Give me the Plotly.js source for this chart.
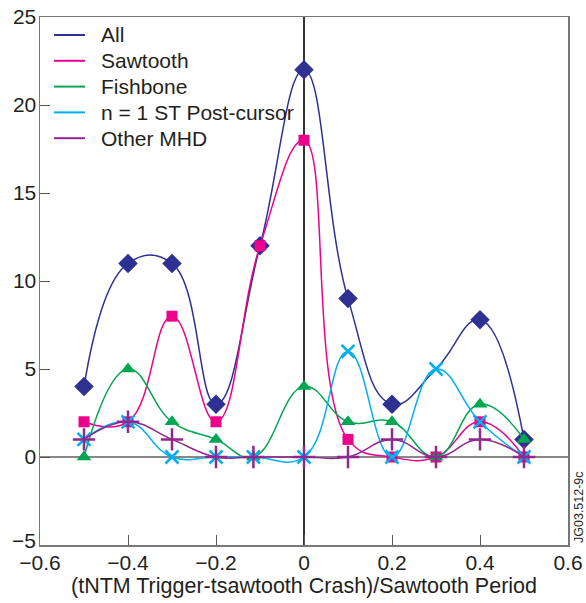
<!DOCTYPE html>
<html><head><meta charset="utf-8">
<script src="https://cdn.plot.ly/plotly-3.0.1.min.js"></script>
<style>body{margin:0;background:#fff}#c{width:586px;height:603px}</style>
</head><body><div id="c"></div>
<script>
const xMain = [-0.5, -0.4, -0.3, -0.2, -0.1, 0, 0.1, 0.2, 0.3, 0.4, 0.5];
const xMinor = [-0.5, -0.4, -0.3, -0.2, -0.115, 0, 0.1, 0.2, 0.3, 0.4, 0.5];
const allVals = [4, 11, 11, 3, 12, 22, 9, 3, 5, 7.8, 1];
const sawtoothVals = [2, 2, 8, 2, 12, 18, 1, 0, 0, 2, 0];
const fishboneVals = [0, 5, 2, 1, 0, 4, 2, 2, 0, 3, 1];
const postCursorVals = [1, 2, 0, 0, 0, 0, 6, 0, 5, 2, 0];
const otherMhdVals = [1, 2, 1, 0, 0, 0, 0, 1, 0, 1, 0];
const seriesNames = ['All', 'Sawtooth', 'Fishbone', 'n = 1 ST Post-cursor', 'Other MHD'];
const seriesColors = ['#2E3192', '#EC008C', '#00A651', '#00AEEF', '#92278F'];
const yTickVals = [-5, 0, 5, 10, 15, 20, 25];
const yTickText = ['', '0', '5', '10', '15', '20', '25'];
const yLowLabel = '\u22125';

const allMarkerSizes = [15, 15, 15, 15, 15, 15, 15, 15, 0, 15, 15];

function tr(x, y, color, symbol, msize, mline) {
  return {
    x: x, y: y, type: 'scatter', mode: 'lines+markers', showlegend: false,
    line: {shape: 'spline', smoothing: 1.25, color: color, width: 1.5},
    marker: {symbol: symbol, size: msize, color: color, opacity: 1, line: mline || {width: 0}}
  };
}
const data = [
  tr(xMain, allVals, seriesColors[0], 'diamond', allMarkerSizes),
  tr(xMain, sawtoothVals, seriesColors[1], 'square', 11),
  tr(xMinor, fishboneVals, seriesColors[2], 'triangle-up', 13),
  tr(xMinor, postCursorVals, seriesColors[3], 'x-thin', 13, {width: 2.5, color: seriesColors[3]}),
  tr(xMinor, otherMhdVals, seriesColors[4], 'cross-thin', 16, {width: 2.5, color: seriesColors[4]})
];

// plot area in pixels
const L = 40, T = 17, W = 528, H = 528;
const px = p => (p - L) / W;
const py = p => 1 - (p - T) / H;

const shapes = [];
const annotations = [];
seriesNames.forEach((n, i) => {
  const yy = 35 + i * 25.8;
  shapes.push({type: 'line', xref: 'paper', yref: 'paper', x0: px(54), x1: px(85), y0: py(yy), y1: py(yy),
               line: {color: seriesColors[i], width: 2}});
  annotations.push({text: n, xref: 'paper', yref: 'paper', x: px(99), y: py(yy), xanchor: 'left', yanchor: 'middle',
                    showarrow: false, font: {size: 21, color: '#231F20'}});
});
annotations.push({text: yLowLabel, xref: 'paper', yref: 'y', x: 0, y: -5, xanchor: 'right', yanchor: 'middle',
                  xshift: -2, yshift: 5, showarrow: false, font: {size: 21, color: '#231F20'}});
annotations.push({text: 'JG03.512-9c', xref: 'paper', yref: 'paper', x: 1.0, y: 0, xanchor: 'left', yanchor: 'bottom',
                  xshift: 2, textangle: -90, showarrow: false, font: {size: 12.5, color: '#231F20'}});

const layout = {
  width: 586, height: 603,
  margin: {l: L, r: 586 - L - W, t: T, b: 603 - T - H},
  paper_bgcolor: '#fff', plot_bgcolor: '#fff',
  font: {family: 'Liberation Sans, Arial, sans-serif', size: 20, color: '#231F20'},
  showlegend: false,
  xaxis: {range: [-0.6, 0.6], dtick: 0.2, tick0: -0.6, ticks: 'inside', ticklen: 10,
          tickcolor: '#555', showgrid: false, zeroline: true, zerolinecolor: '#333', zerolinewidth: 1.2,
          showline: true, linecolor: '#777', linewidth: 1.5, mirror: true,
          tickfont: {size: 21}, ticklabelstandoff: -2,
          title: {text: '(tNTM Trigger-tsawtooth Crash)/Sawtooth Period', font: {size: 21.5}, standoff: 4}},
  yaxis: {range: [-5, 25], tickmode: 'array', tickvals: yTickVals, ticktext: yTickText, ticks: 'inside', ticklen: 10,
          tickcolor: '#555', showgrid: false, zeroline: true, zerolinecolor: '#888', zerolinewidth: 2,
          showline: true, linecolor: '#777', linewidth: 1.5, mirror: true,
          tickfont: {size: 21}, ticklabelstandoff: -2},
  shapes: shapes,
  annotations: annotations
};
Plotly.newPlot('c', data, layout, {displayModeBar: false, staticPlot: true});
</script></body></html>
